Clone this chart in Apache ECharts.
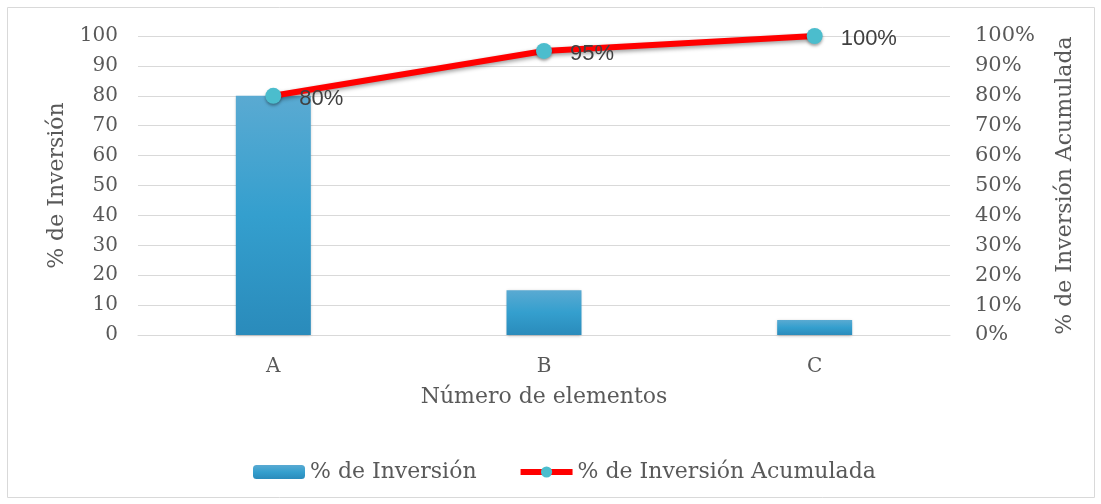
<!DOCTYPE html>
<html>
<head>
<meta charset="utf-8">
<script src="https://cdn.jsdelivr.net/npm/echarts@6/dist/echarts.min.js"></script>
<style>
  html, body { margin: 0; padding: 0; background: #fff; }
  #chart { width: 1101px; height: 504px; }
</style>
</head>
<body>
<div id="chart"></div>
<script>
// datos
var categorias = ['A', 'B', 'C'];
var inversion = [80, 15, 5];
var acumulada = [80, 95, 100];

var fuente = 'DejaVu Serif';
var gris = '#595959';

var chart = echarts.init(document.getElementById('chart'));

var option = {
  animation: false,
  textStyle: { fontFamily: fuente },
  graphic: [{
    type: 'rect',
    shape: { x: 7.5, y: 7.5, width: 1087, height: 490 },
    style: { fill: 'none', stroke: '#d9d9d9', lineWidth: 1 },
    silent: true
  }],
  grid: { left: 138, right: 151, top: 36, bottom: 169 },
  legend: {
    top: 456,
    left: 248,
    itemWidth: 52,
    itemHeight: 14,
    itemGap: 41,
    textStyle: { fontFamily: fuente, fontSize: 22, color: gris },
    data: [
      { name: '% de Inversión' },
      { name: '% de Inversión Acumulada', lineStyle: { width: 6, color: '#ff0000' } }
    ]
  },
  xAxis: {
    type: 'category',
    data: categorias,
    name: 'Número de elementos',
    nameLocation: 'middle',
    nameGap: 51,
    nameTextStyle: { fontFamily: fuente, fontSize: 22, color: gris },
    axisLine: { lineStyle: { color: '#d9d9d9' } },
    axisTick: { show: false },
    axisLabel: { fontSize: 20, color: gris, margin: 22 }
  },
  yAxis: [{
    type: 'value',
    min: 0, max: 100, interval: 10,
    name: '% de Inversión',
    nameLocation: 'middle',
    nameGap: 70,
    nameTextStyle: { fontFamily: fuente, fontSize: 22, color: gris },
    axisLabel: { fontSize: 20, color: gris, margin: 20 },
    splitLine: { lineStyle: { color: '#d9d9d9' } }
  }, {
    type: 'value',
    min: 0, max: 100, interval: 10,
    name: '% de Inversión Acumulada',
    nameLocation: 'middle',
    nameGap: 104,
    nameRotate: 90,
    nameTextStyle: { fontFamily: fuente, fontSize: 22, color: gris },
    axisLabel: { fontSize: 21, color: gris, margin: 25, formatter: '{value}%' },
    splitLine: { show: false }
  }],
  series: [{
    name: '% de Inversión',
    type: 'bar',
    data: inversion,
    barWidth: '27.7%',
    itemStyle: {
      color: new echarts.graphic.LinearGradient(0, 0, 0, 1, [
        { offset: 0, color: '#5aaad2' },
        { offset: 0.5, color: '#349fce' },
        { offset: 1, color: '#2a8bbb' }
      ]),
      shadowColor: 'rgba(0,0,0,0.25)',
      shadowBlur: 3,
      shadowOffsetY: 1
    }
  }, {
    name: '% de Inversión Acumulada',
    type: 'line',
    yAxisIndex: 1,
    data: acumulada,
    symbol: 'circle',
    symbolSize: 16,
    lineStyle: {
      color: '#ff0000',
      width: 6,
      shadowColor: 'rgba(0,0,0,0.4)',
      shadowBlur: 4,
      shadowOffsetY: 2
    },
    itemStyle: {
      color: '#4bbdcd',
      shadowColor: 'rgba(0,0,0,0.35)',
      shadowBlur: 3,
      shadowOffsetY: 2
    },
    label: {
      show: true,
      position: 'right',
      distance: 18,
      offset: [0, 3],
      fontFamily: 'Liberation Sans',
      fontSize: 22,
      color: '#404040',
      formatter: '{c}%'
    }
  }]
};

chart.setOption(option);
</script>
</body>
</html>
